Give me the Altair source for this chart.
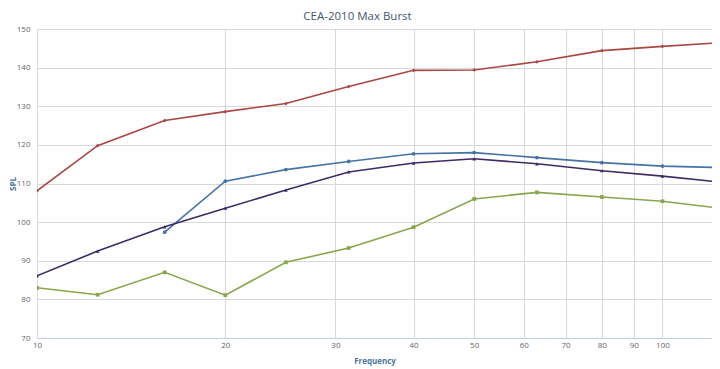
import altair as alt
import pandas as pd

freqs = [10, 12.5, 16, 20, 25, 31.5, 40, 50, 63, 80, 100, 125]
series_names = ["Red", "Blue", "Purple", "Green"]
red = [108.1, 119.8, 126.3, 128.6, 130.7, 135.1, 139.3, 139.4, 141.5, 144.4, 145.5, 146.5]
blue = [None, None, 97.4, 110.6, 113.6, 115.7, 117.7, 118.0, 116.7, 115.4, 114.5, 114.1]
purple = [86.1, 92.5, 98.8, 103.6, 108.3, 113.0, 115.3, 116.4, 115.1, 113.3, 111.9, 110.3]
green = [83.0, 81.2, 87.0, 81.1, 89.6, 93.3, 98.7, 106.0, 107.7, 106.5, 105.4, 103.5]
colors = ["#AA4643", "#4572A7", "#3D2B66", "#89A54E"]
shapes = ["diamond", "circle", "triangle-up", "square"]
x_ticks = [10, 20, 30, 40, 50, 60, 70, 80, 90, 100]
y_ticks = [70, 80, 90, 100, 110, 120, 130, 140, 150]

rows = []
for name, vals in zip(series_names, [red, blue, purple, green]):
    for f, v in zip(freqs, vals):
        if v is not None:
            rows.append({"freq": f, "spl": v, "series": name})
df = pd.DataFrame(rows)

font = "Open Sans"
x = alt.X("freq:Q", scale=alt.Scale(type="log", domain=[10, 120], nice=False),
          axis=alt.Axis(values=x_ticks, format="d", title="Frequency", grid=True,
                        gridColor="#D8D8D8", domainColor="#C0D0E0", ticks=False,
                        labelFont=font, labelFontSize=8, labelColor="#666666", labelPadding=3,
                        titleFont=font, titleFontSize=8, titleFontWeight="bold",
                        titleColor="#4D759E", titlePadding=8, labelFlush=False))
y = alt.Y("spl:Q", scale=alt.Scale(domain=[70, 150], nice=False),
          axis=alt.Axis(values=y_ticks, title="SPL", grid=True, gridColor="#D8D8D8",
                        domain=False, ticks=False, labelFont=font, labelFontSize=8,
                        labelColor="#666666", labelPadding=7, titleFont=font,
                        titleFontSize=8, titleFontWeight="bold", titleColor="#4D759E",
                        titleX=-24, titleY=154.5, titleAngle=-90, titleAlign="center",
                        titleBaseline="middle"))
color = alt.Color("series:N", scale=alt.Scale(domain=series_names, range=colors), legend=None)
shape = alt.Shape("series:N", scale=alt.Scale(domain=series_names, range=shapes), legend=None)

base = alt.Chart(df)
lines = base.mark_line(strokeWidth=1.6, clip=True).encode(x=x, y=y, color=color, detail="series:N")
points = base.mark_point(filled=True, size=14, opacity=1, clip=True).encode(x=x, y=y, color=color, shape=shape)

chart = alt.layer(lines, points).properties(
    width=675, height=309,
    title=alt.TitleParams("CEA-2010 Max Burst", font=font, fontSize=11.5, fontWeight="normal",
                          color="#3E576F", anchor="middle", dx=-17, offset=3),
    padding={"left": 29, "top": 21, "right": 0, "bottom": 31},
    autosize=alt.AutoSizeParams(type="none"),
).configure_view(stroke=None)

chart.save("out.html", embed_options={"renderer": "svg", "actions": False})
